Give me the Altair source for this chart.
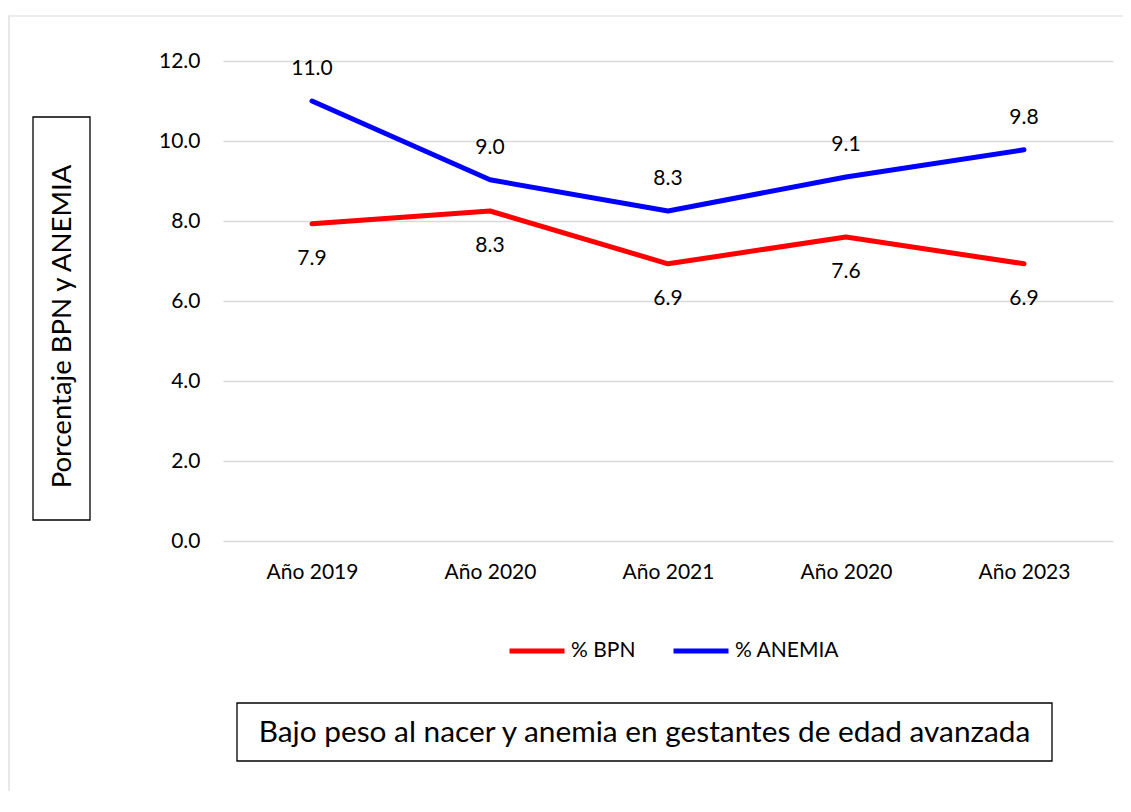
import json
import altair as alt
import pandas as pd

# ---- data ----
years = ["Año 2019", "Año 2020", "Año 2021", "Año 2020", "Año 2023"]
series = ["% BPN", "% ANEMIA"]
colors = ["#FF0000", "#0000FF"]
bpn = [7.93, 8.25, 6.93, 7.6, 6.93]
anemia = [11.0, 9.03, 8.25, 9.1, 9.78]
y_ticks = [0, 2, 4, 6, 8, 10, 12]
y_title = "Porcentaje BPN y ANEMIA"
chart_title = "Bajo peso al nacer y anemia en gestantes de edad avanzada"

rows = []
for i in range(len(years)):
    rows.append({"pos": i, "serie": series[0], "valor": bpn[i]})
    rows.append({"pos": i, "serie": series[1], "valor": anemia[i]})
df = pd.DataFrame(rows)

FONT = "Lato"
W, H = 890, 480

label_expr = json.dumps(years) + "[datum.value]"

x_enc = alt.X(
    "pos:O",
    scale=alt.Scale(type="point", padding=0.5),
    axis=alt.Axis(
        title=None, labelExpr=label_expr, labelAngle=0, ticks=False, domain=False,
        labelPadding=20, labelFontSize=21, labelFont=FONT, labelColor="#000000",
        grid=False,
    ),
)
y_enc = alt.Y(
    "valor:Q",
    scale=alt.Scale(domain=[0, 12], nice=False),
    axis=alt.Axis(
        values=y_ticks, format=".1f", ticks=False, domain=False,
        labelPadding=23, labelFontSize=21, labelFont=FONT, labelColor="#000000",
        gridColor="#d9d9d9", gridWidth=1.5,
        title=y_title, titleFont=FONT, titleFontSize=27.5, titleFontWeight="normal",
        titleColor="#000000", titleX=-161, titleY=265, titleAngle=270,
        titleAlign="center", titleBaseline="middle",
    ),
)
color_enc = alt.Color(
    "serie:N",
    scale=alt.Scale(domain=series, range=colors),
    sort=series,
    legend=alt.Legend(
        orient="none", legendX=284, legendY=560, direction="horizontal", title=None,
        symbolType="stroke", symbolSize=3025, symbolStrokeWidth=5,
        labelFontSize=21, labelFont=FONT, labelColor="#000000",
        labelOffset=4, columnPadding=27, padding=0,
    ),
)

base = alt.Chart(df)

lines = base.mark_line(strokeWidth=5, strokeCap="round", strokeJoin="round").encode(
    x=x_enc, y=y_enc, color=color_enc
)

labels_bpn = base.transform_filter(alt.datum.serie == series[0]).mark_text(
    fontSize=21, font=FONT, color="#000000", dy=35
).encode(x=x_enc, y=y_enc, text=alt.Text("valor:Q", format=".1f"))

labels_an = base.transform_filter(alt.datum.serie == series[1]).mark_text(
    fontSize=21, font=FONT, color="#000000", dy=-32
).encode(x=x_enc, y=y_enc, text=alt.Text("valor:Q", format=".1f"))

deco = alt.Chart(pd.DataFrame({"k": [0]}))

outer = deco.mark_rect(fill="transparent", stroke="#d9d9d9", strokeWidth=1.2).encode(
    x=alt.value(-214), x2=alt.value(960), y=alt.value(-45), y2=alt.value(800)
)
ybox = deco.mark_rect(fill="transparent", stroke="#000000", strokeWidth=1.3).encode(
    x=alt.value(-190), x2=alt.value(-133), y=alt.value(56), y2=alt.value(459)
)
tbox = deco.mark_rect(fill="transparent", stroke="#000000", strokeWidth=1.3).encode(
    x=alt.value(14), x2=alt.value(829), y=alt.value(642), y2=alt.value(700)
)
ttext = deco.mark_text(
    fontSize=29.8, font=FONT, color="#000000", align="center", baseline="middle"
).encode(x=alt.value(421.5), y=alt.value(672), text=alt.value(chart_title))

chart = alt.layer(outer, ybox, tbox, ttext, lines, labels_bpn, labels_an).properties(
    width=W, height=H,
    autosize=alt.AutoSizeParams(type="none"),
    padding={"left": 215, "top": 53, "right": 10, "bottom": 250},
    background="white",
).configure_view(stroke=None)

chart.save("out.html", embed_options={"renderer": "svg", "actions": False})
